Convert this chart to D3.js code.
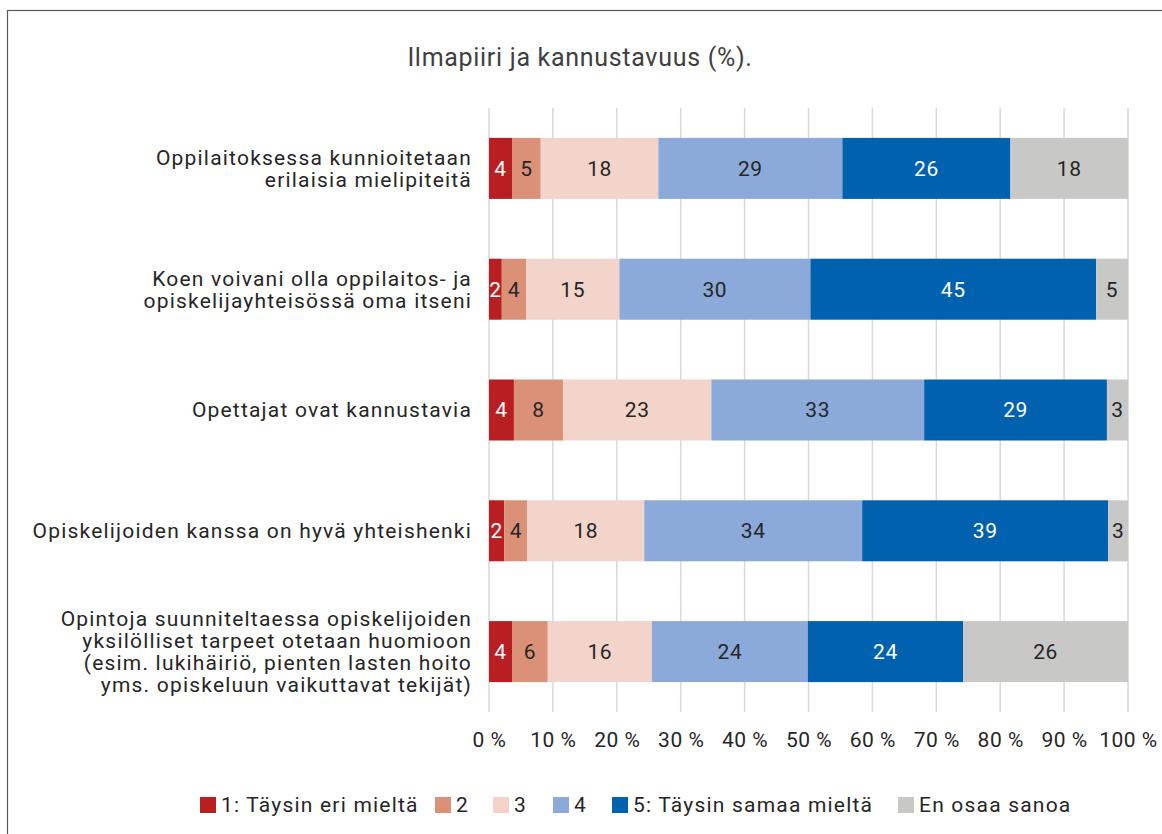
<!DOCTYPE html>
<html>
<head>
<meta charset="utf-8">
<script src="https://cdn.jsdelivr.net/npm/d3@7"></script>
<style>
  body { margin: 0; background: #fff; }
  text { font-family: Roboto, "DejaVu Sans", sans-serif; }
</style>
</head>
<body>
<div id="chart"></div>
<script>
// Ilmapiiri ja kannustavuus, 100 % stacked bars

var title = "Ilmapiiri ja kannustavuus (%).";

var questions = [
  ["Oppilaitoksessa kunnioitetaan", "erilaisia mielipiteitä"],
  ["Koen voivani olla oppilaitos- ja", "opiskelijayhteisössä oma itseni"],
  ["Opettajat ovat kannustavia"],
  ["Opiskelijoiden kanssa on hyvä yhteishenki"],
  ["Opintoja suunniteltaessa opiskelijoiden", "yksilölliset tarpeet otetaan huomioon",
   "(esim. lukihäiriö, pienten lasten hoito", "yms. opiskeluun vaikuttavat tekijät)"]
];

var seriesNames = ["1: Täysin eri mieltä", "2", "3", "4", "5: Täysin samaa mieltä", "En osaa sanoa"];
var seriesColors = ["#b91f22", "#db9178", "#f2d4ca", "#8ba9d9", "#0062ae", "#c8c8c6"];
var labelColors = ["#fff", "#262626", "#262626", "#262626", "#fff", "#262626"];

// values per question, in series order (%)
var v1 = [3.6, 4.5, 18.4, 28.8, 26.3, 18.4];
var v2 = [2.0, 3.8, 14.6, 29.9, 44.7, 5.0];
var v3 = [3.9, 7.7, 23.2, 33.3, 28.6, 3.3];
var v4 = [2.4, 3.6, 18.3, 34.1, 38.5, 3.1];
var v5 = [3.6, 5.6, 16.3, 24.4, 24.3, 25.8];

var ticks = [0, 10, 20, 30, 40, 50, 60, 70, 80, 90, 100];

var W = 1162, H = 834,
    fs = 21, ls = "1.2px";

var svg = d3.select("#chart").append("svg")
    .attr("width", W).attr("height", H);

// outer frame (runs off right and bottom)
svg.append("rect")
   .attr("x", 7.5).attr("y", 10.5)
   .attr("width", W + 20).attr("height", H + 20)
   .attr("fill", "none").attr("stroke", "#595959").attr("stroke-width", 1.2);

svg.append("text")
   .attr("x", 580).attr("y", 57)
   .attr("dy", "0.35em")
   .attr("text-anchor", "middle")
   .attr("font-size", 25)
   .attr("letter-spacing", "0.7px")
   .attr("fill", "#404040")
   .text(title);

var rows = [v1, v2, v3, v4, v5].map(function(vals, i) {
  var acc = 0;
  return vals.map(function(v, j) {
    var d = { q: i, s: j, v: v, x0: acc, x1: acc + v };
    acc += v;
    return d;
  });
});

var x = d3.scaleLinear().domain([0, 100]).range([489, 1128]);
var y = d3.scaleBand().domain(d3.range(questions.length))
    .range([108, 712]).paddingInner(0.495).paddingOuter(0.2475);

// gridlines
svg.append("g").selectAll("line")
   .data(ticks).enter().append("line")
   .attr("x1", x).attr("x2", x)
   .attr("y1", 108).attr("y2", 712)
   .attr("stroke", "#d9d9d9").attr("stroke-width", 1.5);

// x axis labels
var xAxis = d3.axisBottom(x).tickValues(ticks)
    .tickSize(0).tickPadding(0)
    .tickFormat(function(d) { return d + " %"; });

svg.append("g")
   .attr("transform", "translate(0,740)")
   .call(xAxis)
   .call(function(g) {
     g.select(".domain").remove();
     g.selectAll("text")
      .attr("dy", "0.35em")
      .attr("font-size", fs)
      .attr("letter-spacing", "0.5px")
      .attr("fill", "#262626")
      .attr("font-family", "Roboto, sans-serif");
   });

var bars = svg.append("g").selectAll("g")
   .data(rows).enter().append("g");

bars.selectAll("rect")
   .data(function(d) { return d; }).enter().append("rect")
   .attr("x", function(d) { return x(d.x0); })
   .attr("width", function(d) { return x(d.x1) - x(d.x0); })
   .attr("y", function(d) { return y(d.q); })
   .attr("height", y.bandwidth())
   .attr("fill", function(d) { return seriesColors[d.s]; });

bars.selectAll("text")
   .data(function(d) { return d; }).enter().append("text")
   .attr("x", function(d) { return (x(d.x0) + x(d.x1)) / 2; })
   .attr("y", function(d) { return y(d.q) + y.bandwidth() / 2; })
   .attr("dy", "0.35em")
   .attr("text-anchor", "middle")
   .attr("font-size", fs)
   .attr("letter-spacing", "0.6px")
   .attr("fill", function(d) { return labelColors[d.s]; })
   .text(function(d) { return Math.round(d.v); });

// category labels
var lineH = 22;
svg.append("g").selectAll("text")
   .data(questions).enter().append("text")
   .attr("text-anchor", "end")
   .attr("font-size", fs)
   .attr("letter-spacing", ls)
   .attr("fill", "#262626")
   .each(function(lines, i) {
     var cy = y(i) + y.bandwidth() / 2,
         top = cy - (lines.length - 1) * lineH / 2;
     d3.select(this).selectAll("tspan")
       .data(lines).enter().append("tspan")
       .attr("x", 472)
       .attr("y", function(l, k) { return top + k * lineH; })
       .attr("dy", "0.35em")
       .text(function(l) { return l; });
   });

// legend
var legendX = [200, 435, 493, 553, 612, 898];
var legend = svg.append("g").selectAll("g")
   .data(seriesNames).enter().append("g")
   .attr("transform", function(d, i) { return "translate(" + legendX[i] + ",797)"; });

legend.append("rect")
   .attr("width", 16).attr("height", 16)
   .attr("fill", function(d, i) { return seriesColors[i]; });

legend.append("text")
   .attr("x", 21).attr("y", 8)
   .attr("dy", "0.35em")
   .attr("font-size", fs)
   .attr("letter-spacing", ls)
   .attr("fill", "#262626")
   .text(function(d) { return d; });
</script>
</body>
</html>
